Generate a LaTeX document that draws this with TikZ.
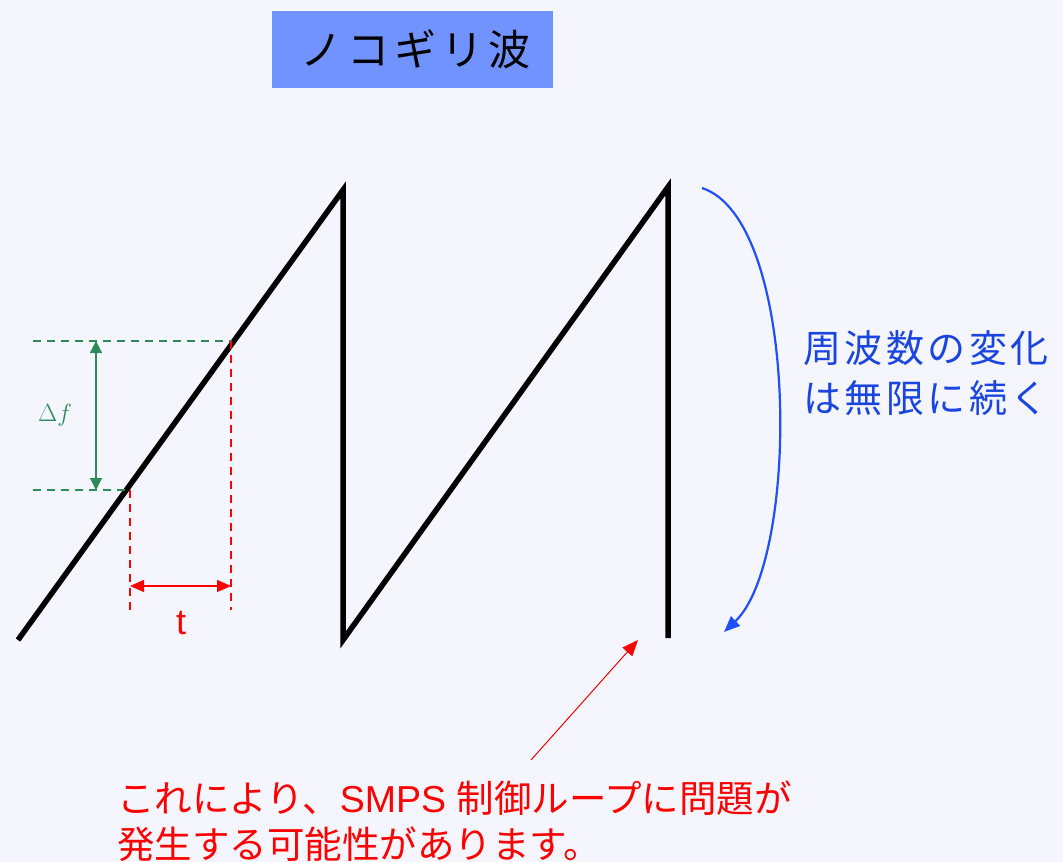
\documentclass[tikz,border=0pt]{standalone}
\usepackage{fontspec}
\setmainfont{Liberation Sans}
\newfontfamily\jp{Noto Sans CJK JP}
\newfontfamily\jpsp[LetterSpace=12]{Noto Sans CJK JP}
\newfontfamily\jpbl[LetterSpace=9]{Noto Sans CJK JP}
\usetikzlibrary{arrows.meta}
\definecolor{bg}{HTML}{F5F6FD}
\definecolor{titlebg}{HTML}{7093FF}
\definecolor{grn}{HTML}{2E8B57}
\definecolor{blu}{HTML}{1F4FFF}
\definecolor{blutxt}{HTML}{1A45E0}
\definecolor{rd}{HTML}{FF0000}
\tikzset{
  wave/.style={line width=5.5pt, black, line join=miter},
  gdash/.style={grn, line width=2.2pt, dash pattern=on 8pt off 6pt},
  rdash/.style={rd, line width=2.2pt, dash pattern=on 8pt off 6pt},
  garrow/.style={grn, line width=1.3pt, {Triangle[length=12pt,width=12pt]}-{Triangle[length=12pt,width=12pt]}},
  rarrow/.style={rd, line width=1.3pt, {Triangle[length=14pt,width=12pt]}-{Triangle[length=14pt,width=12pt]}},
}
\begin{document}
\begin{tikzpicture}[x=1pt,y=-1pt]
\path[fill=bg] (0,0) rectangle (1063,862);
\useasboundingbox (0,0) rectangle (1063,862);
% title
\node[fill=titlebg, minimum width=281pt, minimum height=77pt, inner sep=0pt, anchor=north west] (title) at (272,11) {};
\node[font=\jpsp\fontsize{42}{48}\selectfont, black] (titletxt) at ([xshift=3pt]title.center) {ノコギリ波};
% sawtooth
\coordinate (p0) at (18,640);
\coordinate (p1) at (343,190);
\coordinate (p2) at (343,640);
\coordinate (p3) at (668,187);
\coordinate (p4) at (668,638);
\draw[wave] (p0) -- (p1) -- (p2) -- (p3) -- (p4);
% green delta f
\coordinate (g1a) at (33,341);
\coordinate (g1b) at (232,341);
\coordinate (g2a) at (33,490);
\coordinate (g2b) at (130,490);
\draw[gdash] (g1a) -- (g1b);
\draw[gdash] (g2a) -- (g2b);
\coordinate (ga) at (96,341);
\coordinate (gb) at (96,490);
\draw[garrow] (ga) -- (gb);
\node[grn, font=\fontsize{28}{32}\selectfont] (df) at (55,415) {$\Delta f$};
% red t
\coordinate (r1a) at (130,490);
\coordinate (r1b) at (130,610);
\coordinate (r2a) at (231,341);
\coordinate (r2b) at (231,610);
\draw[rdash] (r1a) -- (r1b);
\draw[rdash] (r2a) -- (r2b);
\coordinate (ta) at (130,586);
\coordinate (tb) at (231,586);
\draw[rarrow] (ta) -- (tb);
\node[rd, font=\fontsize{36}{40}\selectfont] (tlab) at (181,623) {t};
% blue arc
\coordinate (ba) at (702,188);
\coordinate (bb) at (724,632);
\draw[blu, line width=2.2pt, -{Triangle[length=16pt,width=13pt]}] (ba) .. controls (800,220) and (800,560) .. (bb);
\node[blutxt, font=\jpbl\fontsize{38}{50}\selectfont, align=left, anchor=west] (btxt) at (800,373) {周波数の変化\\は無限に続く};
% red note
\node[rd, font=\fontsize{37.5}{46}\selectfont, align=left, anchor=north west, inner sep=0pt] (note) at (117,781) {{\jp これにより、}SMPS {\jp 制御ループに問題が}\\{\jp 発生する可能性があります。}};
\coordinate (na) at (531,760);
\coordinate (nb) at (638,640);
\draw[rd, line width=1pt, -{Triangle[length=16pt,width=13pt]}] (na) -- (nb);
\end{tikzpicture}
\end{document}
